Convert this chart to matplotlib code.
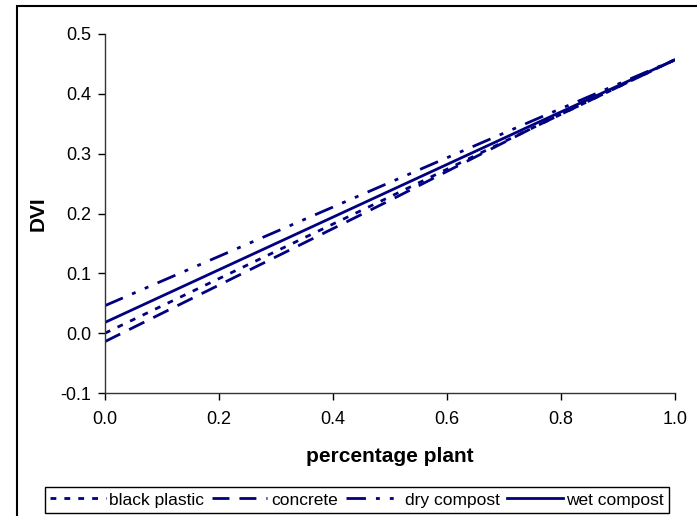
import numpy as np
import matplotlib
matplotlib.use('Agg')
import matplotlib.pyplot as plt
from matplotlib.patches import Rectangle

plt.rcParams['font.family'] = ['Liberation Sans', 'DejaVu Sans']

# --- data ---
pct_plant = [0.0, 0.25, 0.5, 0.75, 1.0]
black_plastic = [0.000, 0.114, 0.228, 0.343, 0.457]
concrete = [-0.014, 0.104, 0.222, 0.343, 0.457]
dry_compost = [0.046, 0.149, 0.252, 0.355, 0.457]
wet_compost = [0.018, 0.128, 0.238, 0.348, 0.457]

x_ticks = [0.0, 0.2, 0.4, 0.6, 0.8, 1.0]
y_ticks = [-0.1, 0.0, 0.1, 0.2, 0.3, 0.4, 0.5]

NAVY = '#000080'
LW = 2.0

fig = plt.figure(figsize=(6.97, 5.16), dpi=100)
ax = fig.add_axes([105/697, 1 - 393/516, 570/697, 359/516])

ax.plot(pct_plant, black_plastic, color=NAVY, lw=LW, dashes=(2.1, 2.9), label='black plastic')
ax.plot(pct_plant, concrete, color=NAVY, lw=LW, dashes=(6.1, 3.6), label='concrete')
ax.plot(pct_plant, dry_compost, color=NAVY, lw=LW,
        dashes=(7.0, 3.6, 1.4, 3.6, 1.4, 3.6), label='dry compost')
ax.plot(pct_plant, wet_compost, color=NAVY, lw=LW, label='wet compost')

ax.set_xlim(0, 1.0)
ax.set_ylim(-0.1, 0.5)
ax.set_xticks(x_ticks)
ax.set_yticks(y_ticks)
ax.set_xticklabels([f'{v:.1f}' for v in x_ticks])
ax.set_yticklabels([f'{v:.1f}' for v in y_ticks])
ax.tick_params(labelsize=13, length=5, width=1, direction='out')
ax.tick_params(axis='x', pad=8)
ax.tick_params(axis='y', pad=5)
for s in ['top', 'right']:
    ax.spines[s].set_visible(False)
for s in ['left', 'bottom']:
    ax.spines[s].set_color('#333333')
    ax.spines[s].set_linewidth(1.0)

ax.set_xlabel('percentage plant', fontsize=15, fontweight='bold', labelpad=14)
ax.set_ylabel('DVI', fontsize=15, fontweight='bold', labelpad=9)

leg = fig.legend(loc='center', bbox_to_anchor=(357/697, 1 - 500/516), ncol=4,
                 fontsize=12.5, frameon=True, fancybox=False, framealpha=1,
                 edgecolor='black', handlelength=3.2, handletextpad=0.2,
                 columnspacing=0.45, borderpad=0.3, borderaxespad=0)
leg.get_frame().set_linewidth(1.0)

# outer chart-area border (runs off the right/bottom edges in the original)
fig.patches.append(Rectangle((17/697, -0.05), 1.1, 1 - 6/516 + 0.05,
                             transform=fig.transFigure, fill=False,
                             edgecolor='black', lw=1.5))

plt.savefig('out.png', dpi=100)
